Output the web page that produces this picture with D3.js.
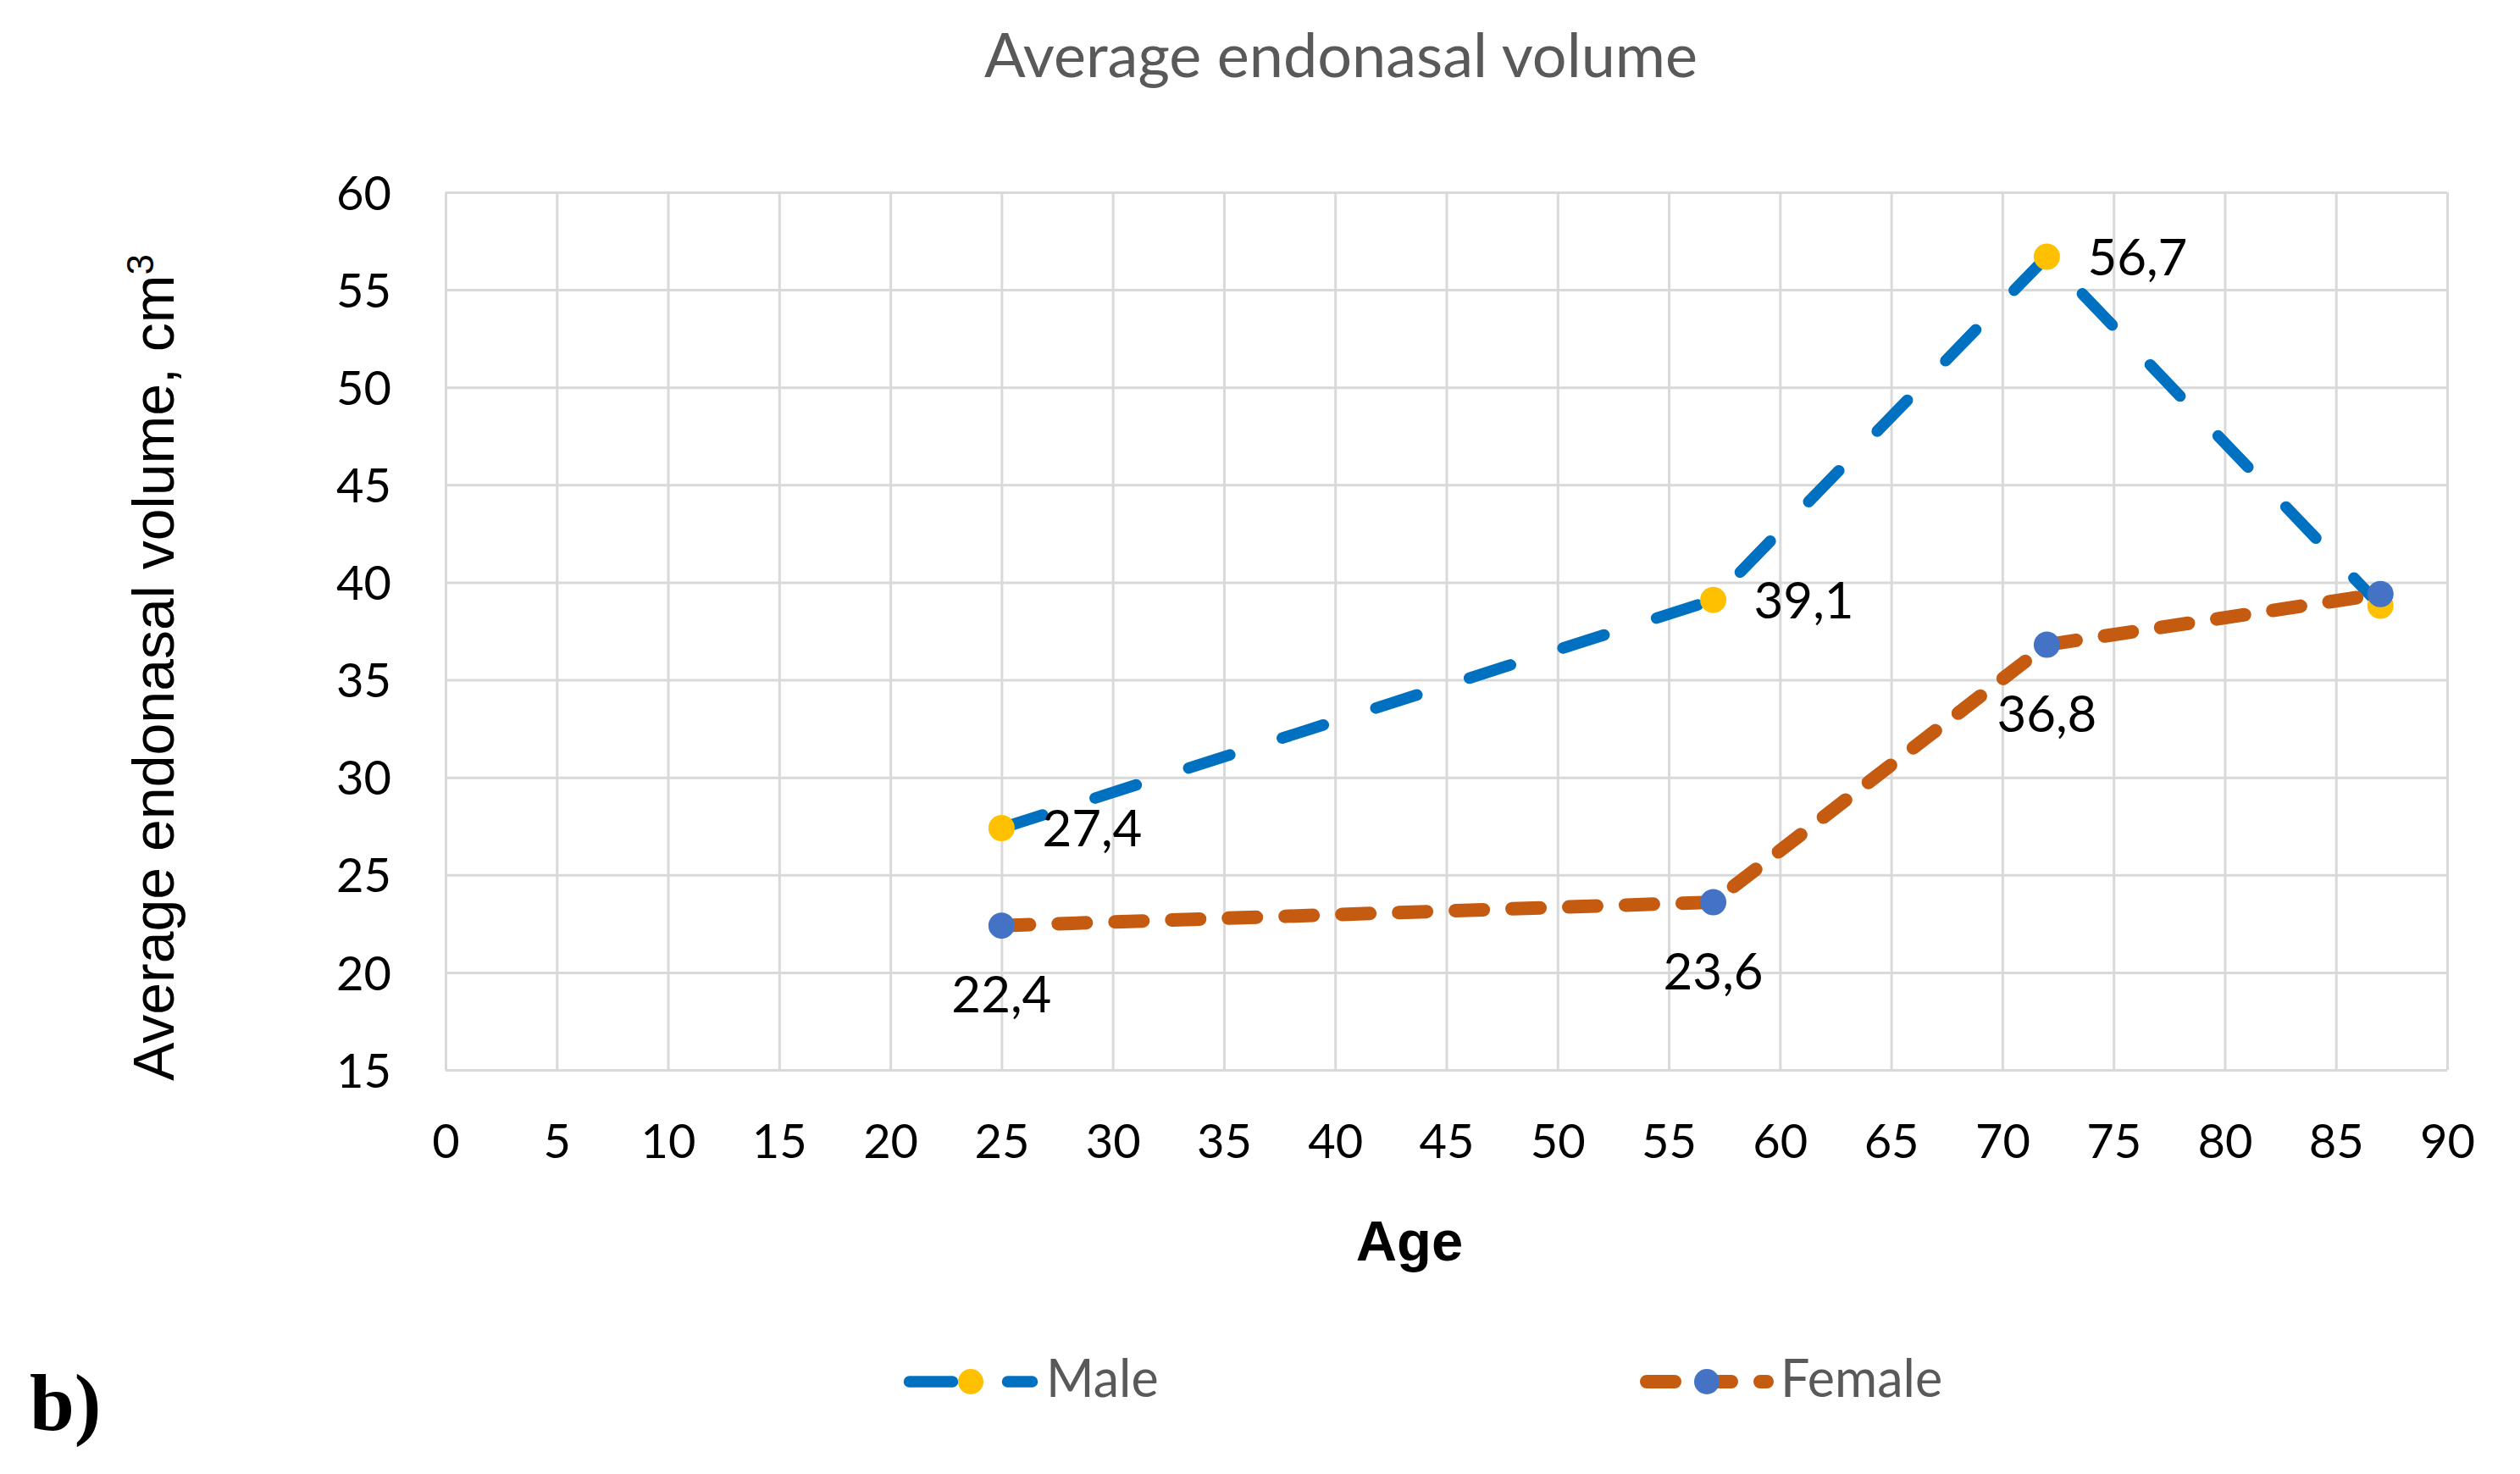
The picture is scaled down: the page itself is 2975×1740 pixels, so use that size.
<!DOCTYPE html>
<html>
<head>
<meta charset="utf-8">
<script src="https://cdn.jsdelivr.net/npm/d3@7"></script>
<style>
  html, body { margin: 0; padding: 0; background: #ffffff; }
  svg { display: block; }
</style>
</head>
<body>
<svg id="chart" width="2975" height="1740"></svg>
<script>
// ---------------- data ----------------
const ages = [25, 57, 72, 87];
const maleValues = [27.4, 39.1, 56.7, 38.8];
const femaleValues = [22.4, 23.6, 36.8, 39.4];
const maleLabelShown = [true, true, true, false];
const femaleLabelShown = [true, true, true, false];
const xTicks = [0, 5, 10, 15, 20, 25, 30, 35, 40, 45, 50, 55, 60, 65, 70, 75, 80, 85, 90];
const yTicks = [15, 20, 25, 30, 35, 40, 45, 50, 55, 60];
const seriesNames = ["Male", "Female"];
const titleText = "Average endonasal volume";
const xTitleText = "Age";
const yTitleText = "Average endonasal volume, cm";
const yTitleSup = "3";
const panelLabel = "b)";

// ---------------- layout ----------------
const W = 2975, H = 1740;
const plot = { left: 526, right: 2889, top: 227, bottom: 1263 };
const colors = {
  maleLine: "#0070C0", maleMarker: "#FFC000",
  femaleLine: "#C55A11", femaleMarker: "#4472C4",
  grid: "#D9D9D9", title: "#595959", legend: "#595959", text: "#000000"
};
const uiFont = "Lato, 'Open Sans', sans-serif";
const arialFont = "'Liberation Sans', Arial, sans-serif";

const svg = d3.select("#chart");
svg.append("rect").attr("width", W).attr("height", H).attr("fill", "#fff");

const x = d3.scaleLinear().domain([0, 90]).range([plot.left, plot.right]);
const y = d3.scaleLinear().domain([15, 60]).range([plot.bottom, plot.top]);

const commaFmt = v => d3.format(".1f")(v).replace(".", ",");

// ---------------- axes + grid ----------------
const yAxis = d3.axisLeft(y)
  .tickValues(yTicks)
  .tickSize(-(plot.right - plot.left))
  .tickPadding(64)
  .tickFormat(d3.format("d"));
const gy = svg.append("g")
  .attr("transform", `translate(${plot.left},0)`)
  .call(yAxis);
gy.select(".domain").remove();
gy.selectAll(".tick line").attr("stroke", colors.grid).attr("stroke-width", 3);
gy.selectAll(".tick text")
  .attr("fill", colors.text)
  .attr("font-family", uiFont)
  .attr("font-size", 56)
  .attr("dy", "0.36em");

const xAxis = d3.axisBottom(x)
  .tickValues(xTicks)
  .tickSize(-(plot.bottom - plot.top))
  .tickFormat(d3.format("d"));
const gx = svg.append("g")
  .attr("transform", `translate(0,${plot.bottom})`)
  .call(xAxis);
gx.select(".domain").remove();
gx.selectAll(".tick line").attr("stroke", colors.grid).attr("stroke-width", 3);
gx.selectAll(".tick text")
  .attr("fill", colors.text)
  .attr("font-family", uiFont)
  .attr("font-size", 56)
  .attr("y", 83.5)
  .attr("dy", "0.36em");

// ---------------- series ----------------
const maleData = ages.map((a, i) => ({ age: a, v: maleValues[i], show: maleLabelShown[i] }));
const femaleData = ages.map((a, i) => ({ age: a, v: femaleValues[i], show: femaleLabelShown[i] }));

const line = d3.line().x(d => x(d.age)).y(d => y(d.v));

svg.append("path")
  .datum(maleData)
  .attr("d", line)
  .attr("fill", "none")
  .attr("stroke", colors.maleLine)
  .attr("stroke-width", 13.5)
  .attr("stroke-linecap", "round")
  .attr("stroke-linejoin", "round")
  .attr("stroke-dasharray", "51 65");

svg.append("g").selectAll("circle")
  .data(maleData).join("circle")
  .attr("cx", d => x(d.age)).attr("cy", d => y(d.v))
  .attr("r", 15.5).attr("fill", colors.maleMarker);

svg.append("path")
  .datum(femaleData)
  .attr("d", line)
  .attr("fill", "none")
  .attr("stroke", colors.femaleLine)
  .attr("stroke-width", 16)
  .attr("stroke-linecap", "round")
  .attr("stroke-linejoin", "round")
  .attr("stroke-dasharray", "33 34");

svg.append("g").selectAll("circle")
  .data(femaleData).join("circle")
  .attr("cx", d => x(d.age)).attr("cy", d => y(d.v))
  .attr("r", 15.5).attr("fill", colors.femaleMarker);

// ---------------- data labels ----------------
svg.append("g").selectAll("text")
  .data(maleData.filter(d => d.show)).join("text")
  .attr("x", d => x(d.age) + 48)
  .attr("y", d => y(d.v))
  .attr("dy", "0.36em")
  .attr("text-anchor", "start")
  .attr("font-family", uiFont)
  .attr("font-size", 60)
  .attr("fill", colors.text)
  .text(d => commaFmt(d.v));

svg.append("g").selectAll("text")
  .data(femaleData.filter(d => d.show)).join("text")
  .attr("x", d => x(d.age))
  .attr("y", d => y(d.v) + 81)
  .attr("dy", "0.36em")
  .attr("text-anchor", "middle")
  .attr("font-family", uiFont)
  .attr("font-size", 60)
  .attr("fill", colors.text)
  .text(d => commaFmt(d.v));

// ---------------- titles ----------------
svg.append("text")
  .attr("x", 1583).attr("y", 91)
  .attr("text-anchor", "middle")
  .attr("font-family", uiFont)
  .attr("font-size", 72)
  .attr("fill", colors.title)
  .text(titleText);

svg.append("text")
  .attr("x", 1664).attr("y", 1488)
  .attr("text-anchor", "middle")
  .attr("font-family", arialFont)
  .attr("font-weight", "bold")
  .attr("font-size", 67)
  .attr("fill", colors.text)
  .text(xTitleText);

const yt = svg.append("text")
  .attr("transform", "translate(205,788) rotate(-90)")
  .attr("text-anchor", "middle")
  .attr("font-family", arialFont)
  .attr("font-size", 68)
  .attr("fill", colors.text);
yt.append("tspan").text(yTitleText);
yt.append("tspan").attr("font-size", 44).attr("dy", -24).text(yTitleSup);

// ---------------- legend ----------------
const legendItems = [
  { name: seriesNames[0], line: colors.maleLine, marker: colors.maleMarker, width: 13.5, dash: "51 65",
    x0: 1073.5, x1: 1218.5, mx: 1146, tx: 1235 },
  { name: seriesNames[1], line: colors.femaleLine, marker: colors.femaleMarker, width: 16, dash: "33 34",
    x0: 1944, x1: 2086, mx: 2015, tx: 2102 }
];
const legendY = 1631;
const lg = svg.append("g").selectAll("g").data(legendItems).join("g");
lg.append("line")
  .attr("x1", d => d.x0).attr("x2", d => d.x1)
  .attr("y1", legendY).attr("y2", legendY)
  .attr("stroke", d => d.line)
  .attr("stroke-width", d => d.width)
  .attr("stroke-linecap", "round")
  .attr("stroke-dasharray", d => d.dash);
lg.append("circle")
  .attr("cx", d => d.mx).attr("cy", legendY).attr("r", 15)
  .attr("fill", d => d.marker);
lg.append("text")
  .attr("x", d => d.tx).attr("y", 1649)
  .attr("font-family", uiFont)
  .attr("font-size", 61)
  .attr("fill", colors.legend)
  .text(d => d.name);

// ---------------- panel label ----------------
svg.append("text")
  .attr("x", 35).attr("y", 1688)
  .attr("font-family", "'Liberation Serif', 'Times New Roman', serif")
  .attr("font-weight", "bold")
  .attr("font-size", 95)
  .attr("fill", "#000")
  .text(panelLabel);
</script>
</body>
</html>
